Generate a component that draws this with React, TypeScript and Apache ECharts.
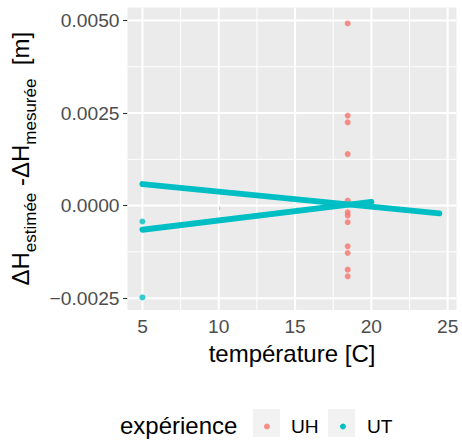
import React, { useEffect, useRef } from "react";
import * as echarts from "echarts";

// ---- data ----
const X_TICKS = [5, 10, 15, 20, 25];
const X_MINOR = [7.5, 12.5, 17.5, 22.5];
const Y_TICKS = [-0.0025, 0, 0.0025, 0.005];
const Y_MINOR = [-0.00125, 0.00125, 0.00375];

// UH: all measured at ~18.45 °C
const uhTemp = [18.45, 18.45, 18.45, 18.45, 18.45, 18.45, 18.45, 18.45, 18.45, 18.45, 18.45, 18.45];
const uhDelta = [0.00492, 0.00243, 0.00225, 0.00139, 0.000135, -0.00018, -0.00027, -0.00045, -0.0011, -0.00128, -0.00173, -0.00191];

// UT: two dense bands of points (start / end) plus two isolated points
const utBandA = [
  [5.0, 0.00058],
  [24.45, -0.00021],
];
const utBandB = [
  [5.0, -0.00065],
  [20.0, 0.0001],
];
const utIsolatedTemp = [5.0, 5.0];
const utIsolatedDelta = [-0.00043, -0.00248];

const X_MIN = 4.02;
const X_MAX = 25.58;
const Y_MIN = -0.00282;
const Y_MAX = 0.00535;

const COL_UH = "#F8766D";
const COL_UT = "#00BFC4";
const FONT = "Liberation Sans, Arial, Helvetica, sans-serif";
const TICK_FS = 19.2;
const TITLE_FS = 24;

export default function App() {
  const ref = useRef<HTMLDivElement>(null);
  useEffect(() => {
    if (!ref.current) return;
    const chart = echarts.init(ref.current, undefined, { renderer: "svg" });

    // [orientation (0 = horizontal, 1 = vertical), value, lineWidth]
    const gridRows = [
      ...Y_MINOR.map((v) => [0, v, 1]),
      ...X_MINOR.map((v) => [1, v, 1]),
      ...Y_TICKS.map((v) => [0, v, 2]),
      ...X_TICKS.map((v) => [1, v, 2]),
    ];

    const fmtY = (v: number) => v.toFixed(4).replace("-", "\u2212");

    const legendCommon = {
      top: 417,
      padding: 0,
      icon: "circle",
      itemWidth: 38,
      itemHeight: 6,
      selectedMode: false,
      textStyle: { fontSize: TICK_FS, color: "#000", fontFamily: FONT },
    };

    chart.setOption({
      animation: false,
      textStyle: { fontFamily: FONT },
      grid: {
        left: 127.5,
        top: 7.5,
        width: 329,
        height: 302.5,
        show: true,
        backgroundColor: "#EBEBEB",
        borderWidth: 0,
        containLabel: false,
      },
      xAxis: {
        type: "value",
        min: X_MIN,
        max: X_MAX,
        axisLine: { show: false },
        splitLine: { show: false },
        axisTick: {
          show: true,
          customValues: X_TICKS,
          length: 4.5,
          lineStyle: { color: "#333333", width: 1.1 },
        },
        axisLabel: {
          customValues: X_TICKS,
          color: "#4D4D4D",
          fontSize: TICK_FS,
          margin: 7,
          fontFamily: FONT,
        },
        name: "température [C]",
        nameLocation: "middle",
        nameGap: 31,
        nameTextStyle: { color: "#000000", fontSize: TITLE_FS, fontFamily: FONT },
      },
      yAxis: {
        type: "value",
        min: Y_MIN,
        max: Y_MAX,
        axisLine: { show: false },
        splitLine: { show: false },
        axisTick: {
          show: true,
          customValues: Y_TICKS,
          length: 4.5,
          lineStyle: { color: "#333333", width: 1.1 },
        },
        axisLabel: {
          customValues: Y_TICKS,
          color: "#4D4D4D",
          fontSize: TICK_FS,
          margin: 8,
          formatter: fmtY,
          fontFamily: FONT,
        },
        name: "{b|ΔH}{s|estimée}{b| -ΔH}{s|mesurée}{b|  [m]}",
        nameLocation: "middle",
        nameRotate: 90,
        nameGap: 86,
        nameTextStyle: {
          color: "#000000",
          fontFamily: FONT,
          rich: {
            b: { fontSize: TITLE_FS, lineHeight: 37, verticalAlign: "middle", color: "#000", fontFamily: FONT },
            s: { fontSize: 17, lineHeight: 18, verticalAlign: "bottom", color: "#000", fontFamily: FONT },
          },
        },
      },
      legend: [
        { ...legendCommon, data: ["UH"], left: 264 },
        { ...legendCommon, data: ["UT"], left: 340 },
      ],
      graphic: [
        {
          type: "rect",
          shape: { x: 253, y: 409, width: 27, height: 28 },
          style: { fill: "#F2F2F2" },
          z: -1,
          silent: true,
        },
        {
          type: "rect",
          shape: { x: 328, y: 409, width: 27, height: 28 },
          style: { fill: "#F2F2F2" },
          z: -1,
          silent: true,
        },
        {
          type: "text",
          x: 120,
          y: 425,
          style: {
            text: "expérience",
            fontSize: TITLE_FS,
            fontFamily: FONT,
            fill: "#000",
            verticalAlign: "middle",
          },
          silent: true,
        },
      ],
      series: [
        {
          name: "panel-grid",
          type: "custom",
          z: 1,
          silent: true,
          data: gridRows,
          renderItem: (params: any, api: any) => {
            const kind = api.value(0);
            const v = api.value(1);
            const w = api.value(2);
            const a = kind === 0 ? api.coord([X_MIN, v]) : api.coord([v, Y_MIN]);
            const b = kind === 0 ? api.coord([X_MAX, v]) : api.coord([v, Y_MAX]);
            return {
              type: "line",
              shape: { x1: a[0], y1: a[1], x2: b[0], y2: b[1] },
              style: { stroke: "#FFFFFF", lineWidth: w, fill: null },
              silent: true,
            };
          },
        },
        {
          name: "UH",
          type: "scatter",
          z: 3,
          symbolSize: 6,
          itemStyle: { color: COL_UH },
          data: uhTemp.map((t, i) => [t, uhDelta[i]]),
        },
        {
          name: "UT",
          type: "line",
          z: 4,
          showSymbol: false,
          symbol: "circle",
          itemStyle: { color: COL_UT },
          lineStyle: { color: COL_UT, width: 6, cap: "round" },
          data: utBandA,
        },
        {
          name: "UT",
          type: "line",
          z: 4,
          showSymbol: false,
          symbol: "circle",
          itemStyle: { color: COL_UT },
          lineStyle: { color: COL_UT, width: 6, cap: "round" },
          data: utBandB,
        },
        {
          name: "UT",
          type: "scatter",
          z: 4,
          symbolSize: 6,
          itemStyle: { color: COL_UT },
          data: utIsolatedTemp.map((t, i) => [t, utIsolatedDelta[i]]),
        },
      ],
    });
    return () => chart.dispose();
  }, []);

  return (
    <div
      ref={ref}
      style={{ position: "fixed", left: 0, top: 0, width: 462, height: 441, background: "#FFFFFF" }}
    />
  );
}
